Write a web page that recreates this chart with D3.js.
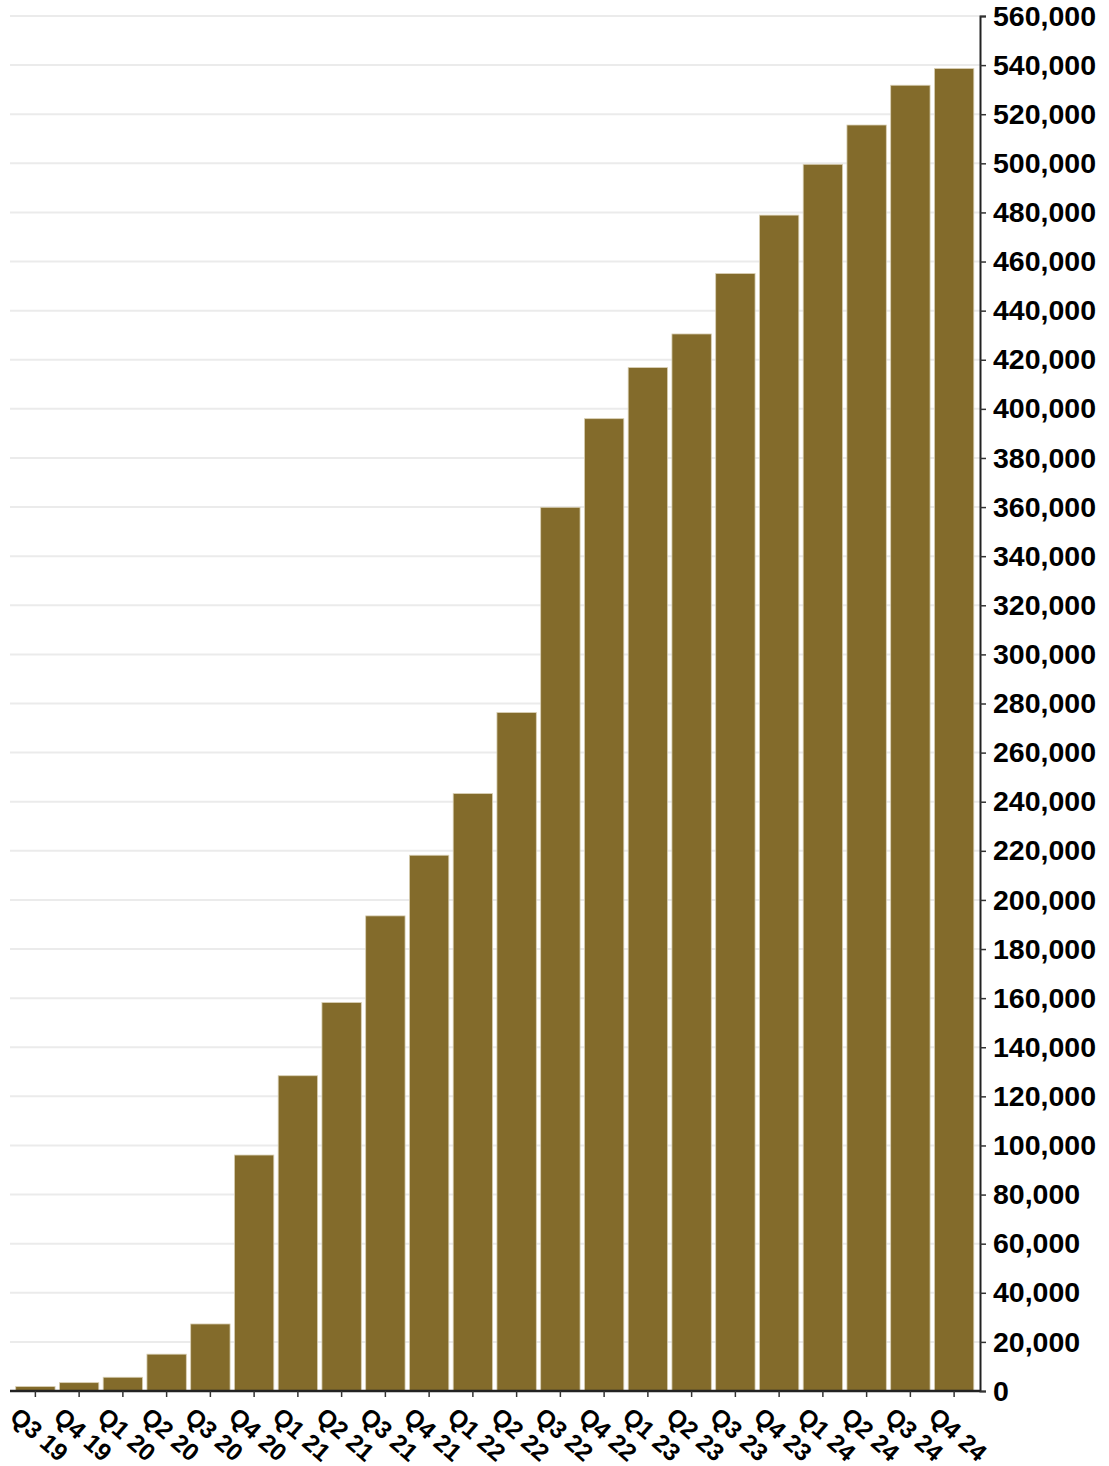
<!DOCTYPE html>
<html>
<head>
<meta charset="utf-8">
<script src="https://cdn.jsdelivr.net/npm/d3@7"></script>
<style>
  body { margin: 0; background: #fff; }
  svg { display: block; font-family: "Liberation Sans", Arial, sans-serif; }
</style>
</head>
<body>
<div id="chart"></div>
<script>
// quarters shown on the x axis
const quarters = ["Q3 19", "Q4 19", "Q1 20", "Q2 20", "Q3 20", "Q4 20", "Q1 21", "Q2 21",
  "Q3 21", "Q4 21", "Q1 22", "Q2 22", "Q3 22", "Q4 22", "Q1 23", "Q2 23",
  "Q3 23", "Q4 23", "Q1 24", "Q2 24", "Q3 24", "Q4 24"];

// cumulative totals
const totals = [1800, 3400, 5600, 15000, 27300, 96100, 128400, 158200,
  193500, 218200, 243300, 276300, 359900, 396000, 416800, 430500,
  455100, 478900, 499600, 515600, 531800, 538600];

const yTicks = d3.range(0, 560001, 20000);

const width = 1109, height = 1466;
const plotLeft = 13.5, axisX = 980, plotTop = 16, plotBottom = 1391;

const svg = d3.select("#chart").append("svg")
    .attr("width", width)
    .attr("height", height);

const x = d3.scaleBand()
    .domain(quarters)
    .range([plotLeft, 976])
    .paddingInner(0.1)
    .paddingOuter(0.05);

const y = d3.scaleLinear()
    .domain([0, 560000])
    .range([plotBottom, plotTop]);

// grid lines
svg.append("g")
    .selectAll("line")
    .data(yTicks.slice(1))
    .join("line")
    .attr("x1", 10)
    .attr("x2", axisX)
    .attr("y1", d => y(d))
    .attr("y2", d => y(d))
    .attr("stroke", "#ebebeb")
    .attr("stroke-width", 2);

// bars
svg.append("g")
    .selectAll("rect")
    .data(totals)
    .join("rect")
    .attr("x", (d, i) => x(quarters[i]))
    .attr("y", d => y(d))
    .attr("width", x.bandwidth())
    .attr("height", d => plotBottom - y(d))
    .attr("fill", "#836b2b")
    .attr("stroke", "#d9cfb4")
    .attr("stroke-width", 0.8);

// right axis
const yAxis = svg.append("g")
    .attr("transform", `translate(${axisX},0)`)
    .call(d3.axisRight(y).tickValues(yTicks).tickSize(6).tickPadding(7)
        .tickFormat(d3.format(",")));
yAxis.select(".domain").attr("stroke", "#222").attr("stroke-width", 2);
yAxis.selectAll(".tick line").attr("stroke", "#333").attr("stroke-width", 1.5);
yAxis.selectAll("text")
    .attr("font-size", 28.5)
    .attr("font-weight", "bold")
    .attr("fill", "#000")
    .attr("font-family", "'Liberation Sans', Arial, sans-serif");

// bottom axis
const xAxis = svg.append("g")
    .attr("transform", `translate(0,${plotBottom})`)
    .call(d3.axisBottom(x).tickSize(6).tickSizeOuter(0));
xAxis.select(".domain")
    .attr("d", `M10,0H${axisX}`)
    .attr("stroke", "#222")
    .attr("stroke-width", 2.5);
xAxis.selectAll(".tick line").attr("stroke", "#333").attr("stroke-width", 1.5);
xAxis.selectAll("text")
    .attr("y", 0)
    .attr("dy", 0)
    .attr("text-anchor", "start")
    .attr("transform", "translate(-27,28) rotate(41)")
    .attr("font-size", 24.5)
    .attr("font-weight", "bold")
    .attr("fill", "#000")
    .attr("font-family", "'Liberation Sans', Arial, sans-serif");
</script>
</body>
</html>
